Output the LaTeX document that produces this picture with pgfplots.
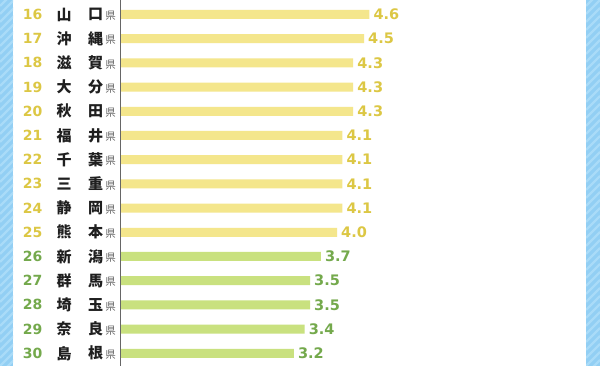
\documentclass[border=0pt]{standalone}
\usepackage{pgfplots}
\usepackage{pgfplotstable}
\pgfplotsset{compat=1.18}
\usepackage{fontspec}
\setmainfont{DejaVu Sans}
\newfontfamily\jp{Noto Sans CJK JP}
\definecolor{ybar}{HTML}{F4E68C}
\definecolor{ytxt}{HTML}{DCC744}
\definecolor{gbar}{HTML}{C9E17F}
\definecolor{gtxt}{HTML}{74A94C}
\definecolor{blueb}{HTML}{92CFF4}
\definecolor{bluel}{HTML}{A9DBF8}
\definecolor{axgray}{HTML}{666666}

\pgfplotstableread{
i v lab
0 4.6 4.6
1 4.5 4.5
2 4.3 4.3
3 4.3 4.3
4 4.3 4.3
5 4.1 4.1
6 4.1 4.1
7 4.1 4.1
8 4.1 4.1
9 4.0 4.0
}\yellowdata
\pgfplotstableread{
i v lab
10 3.7 3.7
11 3.5 3.5
12 3.5 3.5
13 3.4 3.4
14 3.2 3.2
}\greendata

\begin{document}
\begin{tikzpicture}[x=1pt,y=1pt]
\path[use as bounding box, fill=white] (0,0) rectangle (600,366);
% blue striped borders
\begin{scope}
\clip (0,0) rectangle (13,366);
\fill[blueb] (0,0) rectangle (13,366);
\foreach \k in {-24,-16,...,380} \draw[bluel, line width=2.2pt] (0,\k) -- (14,\k+14);
\end{scope}
\begin{scope}
\clip (586,0) rectangle (600,366);
\fill[blueb] (586,0) rectangle (600,366);
\foreach \k in {-24,-16,...,380} \draw[bluel, line width=2.2pt] (586,\k) -- (600,\k+14);
\end{scope}
\begin{axis}[
  at={(121pt,0pt)}, anchor=south west,
  scale only axis, width=464.4pt, height=366pt,
  xmin=0, xmax=8.6,
  y dir=reverse, ymin=-0.599, ymax=14.525,
  hide axis, clip=false,
  xbar, bar width=9pt, bar shift=0pt,
  point meta=explicit symbolic,
  nodes near coords,
  every node near coord/.append style={anchor=west, inner sep=0pt, xshift=4pt,
     font=\bfseries\fontsize{14.5}{14.5}\selectfont},
]
\addplot[draw=none, fill=ybar, every node near coord/.append style={text=ytxt}]
  table[x=v, y=i, meta=lab] {\yellowdata};
\addplot[draw=none, fill=gbar, every node near coord/.append style={text=gtxt}]
  table[x=v, y=i, meta=lab] {\greendata};
\end{axis}
\draw[axgray, line width=0.9pt] (120.5,0) -- (120.5,366);
\foreach \i/\a/\b in {0/山/口,1/沖/縄,2/滋/賀,3/大/分,4/秋/田,5/福/井,6/千/葉,7/三/重,8/静/岡,9/熊/本,10/新/潟,11/群/馬,12/埼/玉,13/奈/良,14/島/根}{
  \pgfmathsetmacro\yy{351.5-24.2*\i}
  \pgfmathtruncatemacro\r{16+\i}
  \ifnum\i<10 \def\cc{ytxt}\else\def\cc{gtxt}\fi
  \node[text=\cc, inner sep=0pt, font=\bfseries\fontsize{14}{14}\selectfont] at (32.5,\yy) {\r};
  \node[text=black!88, inner sep=0pt, font=\jp\bfseries\fontsize{15}{15}\selectfont] at (64,\yy) {\a};
  \node[text=black!88, inner sep=0pt, font=\jp\bfseries\fontsize{15}{15}\selectfont] at (95.5,\yy) {\b};
  \node[text=axgray, inner sep=0pt, font=\jp\fontsize{10.5}{10.5}\selectfont] at (110.5,\yy-1.5) {県};
}
\end{tikzpicture}
\end{document}
